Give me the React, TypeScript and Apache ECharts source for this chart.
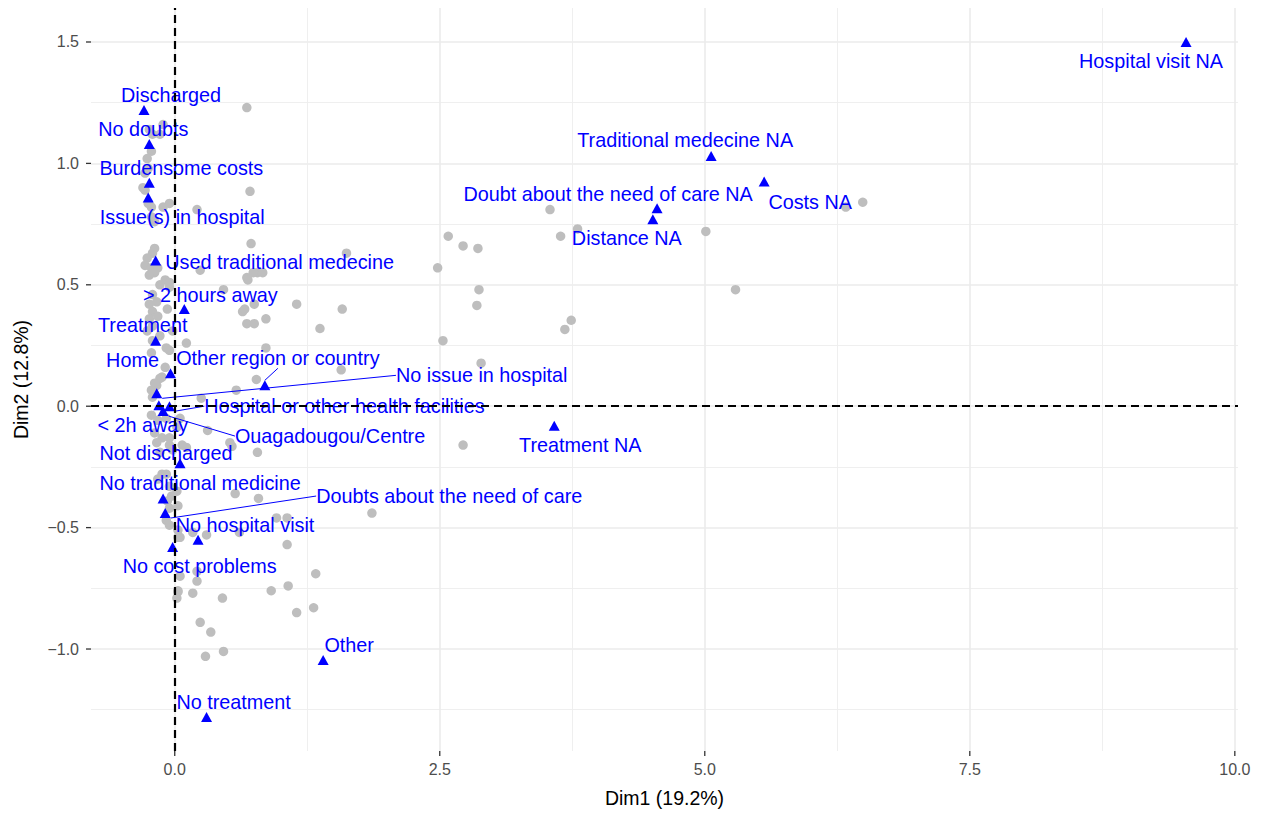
import React, { useEffect, useRef } from "react";
import * as echarts from "echarts";

// Individuals (grey points): [Dim1, Dim2]
const individuals: [number, number][] = [
  [-0.21, 1.12], [-0.14, 1.12], [-0.11, 1.16], [-0.24, 1.14], [-0.22, 1.05], [-0.26, 1.02], [-0.25, 0.98], [-0.28, 0.96],
  [-0.3, 0.9], [-0.28, 0.89], [-0.25, 0.835], [-0.22, 0.82], [-0.05, 0.835], [-0.11, 0.82], [-0.22, 0.78], [-0.19, 0.76],
  [0.21, 0.81], [-0.19, 0.65], [0.68, 1.23], [0.71, 0.885], [0.72, 0.67], [1.62, 0.63],
  [-0.21, 0.63], [-0.26, 0.61], [-0.28, 0.58], [-0.22, 0.57], [-0.16, 0.57], [-0.19, 0.55], [-0.09, 0.52], [-0.14, 0.5],
  [-0.05, 0.49], [0.24, 0.56], [-0.24, 0.54], [-0.05, 0.51],
  [-0.21, 0.46], [-0.17, 0.43], [-0.24, 0.42], [-0.21, 0.39], [-0.07, 0.4], [-0.24, 0.36], [-0.21, 0.33], [-0.26, 0.31],
  [-0.14, 0.29], [-0.02, 0.31], [0.11, 0.26], [-0.21, 0.27], [-0.05, 0.23], [-0.16, 0.37], [-0.08, 0.24], [-0.22, 0.22],
  [-0.09, 0.16], [-0.12, 0.12], [-0.17, 0.086], [-0.14, 0.115], [-0.19, 0.095], [-0.22, 0.066], [-0.21, 0.037], [0.25, 0.033],
  [0.68, 0.53], [0.78, 0.55], [0.74, 0.55], [0.83, 0.55], [0.69, 0.52], [0.46, 0.48], [0.75, 0.42], [0.64, 0.39],
  [1.15, 0.42], [1.58, 0.4], [0.68, 0.34], [0.75, 0.34], [0.86, 0.36], [0.66, 0.4], [1.37, 0.32], [0.86, 0.24],
  [1.57, 0.15], [0.77, 0.11], [0.58, 0.066],
  [2.58, 0.7], [2.72, 0.66], [2.86, 0.65], [2.48, 0.57], [2.87, 0.48], [2.85, 0.415], [2.53, 0.27], [2.89, 0.177],
  [2.72, -0.16], [3.54, 0.81], [3.64, 0.7], [3.8, 0.73], [3.74, 0.354], [3.68, 0.316], [5.01, 0.72], [5.29, 0.48],
  [6.33, 0.82], [6.49, 0.84],
  [-0.22, -0.037], [-0.16, -0.058], [-0.08, -0.05], [-0.19, -0.11], [-0.12, -0.13], [-0.17, -0.15], [-0.05, -0.16],
  [-0.02, -0.18], [-0.14, -0.19], [0.11, -0.17], [0.31, -0.1], [0.02, -0.086], [0.05, -0.05], [-0.05, -0.13],
  [0.07, -0.16], [0.54, -0.165], [0.78, -0.19], [0.52, -0.15],
  [-0.12, -0.28], [-0.16, -0.3], [-0.08, -0.28], [-0.05, -0.33], [0.02, -0.35], [-0.07, -0.39], [-0.05, -0.42],
  [-0.08, -0.47], [-0.05, -0.49], [0.03, -0.51], [0.05, -0.54], [-0.03, -0.37], [0.03, -0.41], [0.57, -0.36],
  [0.79, -0.38], [1.86, -0.44], [0.96, -0.46], [1.06, -0.46], [0.3, -0.53], [0.61, -0.52], [0.17, -0.52],
  [1.06, -0.57], [0.03, -0.54],
  [1.33, -0.69], [1.07, -0.74], [0.91, -0.76], [0.45, -0.79], [1.31, -0.83], [1.15, -0.85], [0.34, -0.93],
  [0.24, -0.89], [0.29, -1.03], [0.46, -1.01], [0.05, -0.7], [0.21, -0.68], [0.21, -0.72], [0.03, -0.765],
  [0.02, -0.79], [0.17, -0.77], [0.03, -0.76],
];

// Variable categories (blue triangles)
const categories = [
  "Hospital visit NA", "Discharged", "No doubts", "Burdensome costs", "Issue(s) in hospital",
  "Used traditional medecine", "> 2 hours away", "Treatment", "Home", "Other region or country",
  "No issue in hospital", "< 2h away", "Hospital or other health facilities", "Ouagadougou/Centre",
  "Not discharged", "No traditional medicine", "Doubts about the need of care", "No hospital visit",
  "No cost problems", "Other", "No treatment", "Treatment NA", "Distance NA",
  "Doubt about the need of care NA", "Traditional medecine NA", "Costs NA",
];
const catDim1 = [
  9.54, -0.29, -0.24, -0.24, -0.25, -0.18, 0.09, -0.18, -0.04, 0.85, -0.17, -0.15, -0.05, -0.11,
  0.05, -0.11, -0.09, 0.22, -0.02, 1.4, 0.3, 3.58, 4.51, 4.55, 5.06, 5.56,
];
const catDim2 = [
  1.5, 1.22, 1.08, 0.92, 0.86, 0.6, 0.4, 0.27, 0.136, 0.086, 0.053, 0.004, 0.0, -0.02,
  -0.235, -0.38, -0.44, -0.55, -0.58, -1.045, -1.28, -0.08, 0.77, 0.815, 1.03, 0.925,
];

// Repelled label placement (pixel offsets of label centre from its point)
const labelOffsets: [number, number][] = [
  [-35, 19], [27, -15], [-6, -15], [32, -15], [34, 20], [124, 1], [26, -14], [-13, -16], [-38, -13], [13, -27],
  [325, -18], [-16, 20], [175, 0], [167, 25], [-14, -10], [37, -15], [284, -17], [47, -15], [27, 19], [26, -15],
  [27, -15], [26, 19], [-26, 19], [-49, -14], [-26, -16], [46, 20],
];
const withSegment = [
  "Other region or country", "No issue in hospital", "Hospital or other health facilities",
  "Ouagadougou/Centre", "Doubts about the need of care",
];

const xMajor = [0, 2.5, 5, 7.5, 10];
const xMinor = [1.25, 3.75, 6.25, 8.75];
const yMajor = [-1, -0.5, 0, 0.5, 1, 1.5];
const yMinor = [-1.25, -0.75, -0.25, 0.25, 0.75, 1.25];

const FONT = '"Liberation Sans", Arial, Helvetica, sans-serif';

export default function App() {
  const ref = useRef<HTMLDivElement>(null);
  useEffect(() => {
    document.body.style.margin = "0";
    const chart = echarts.init(ref.current!, null, { renderer: "svg" });
    const fmt = (v: number) => v.toFixed(1).replace("-", "\u2212");
    const xRange = { min: -0.79, max: 10.03 };
    const yRange = { min: -1.42, max: 1.64 };
    const tickLabel = { color: "#4D4D4D", fontSize: 16, fontFamily: FONT, formatter: fmt };
    const titleStyle = { color: "#000", fontSize: 19.5, fontFamily: FONT };
    chart.setOption({
      animation: false,
      backgroundColor: "#fff",
      grid: { left: 91, right: 24, top: 8, bottom: 62 },
      xAxis: [
        {
          type: "value", ...xRange,
          name: "Dim1 (19.2%)", nameLocation: "middle", nameGap: 37, nameTextStyle: titleStyle,
          axisLine: { show: false, onZero: false },
          axisTick: { show: false, customValues: xMajor },
          axisLabel: { ...tickLabel, customValues: xMajor, margin: 10 },
          splitLine: { show: true, lineStyle: { color: "#EBEBEB", width: 1.6 } },
        },
        {
          type: "value", ...xRange, position: "bottom",
          axisLine: { show: false, onZero: false },
          axisTick: { show: false, customValues: xMinor },
          axisLabel: { show: false, customValues: xMinor },
          splitLine: { show: true, lineStyle: { color: "#EDEDED", width: 0.9 } },
        },
      ],
      yAxis: [
        {
          type: "value", ...yRange,
          name: "Dim2 (12.8%)", nameLocation: "middle", nameGap: 60, nameTextStyle: titleStyle,
          axisLine: { show: false, onZero: false },
          axisTick: { show: false, customValues: yMajor },
          axisLabel: { ...tickLabel, customValues: yMajor, margin: 12 },
          splitLine: { show: true, lineStyle: { color: "#EBEBEB", width: 1.6 } },
        },
        {
          type: "value", ...yRange, position: "left",
          axisLine: { show: false, onZero: false },
          axisTick: { show: false, customValues: yMinor },
          axisLabel: { show: false, customValues: yMinor },
          splitLine: { show: true, lineStyle: { color: "#EDEDED", width: 0.9 } },
        },
      ],
      series: [
        {
          type: "scatter",
          xAxisIndex: 0, yAxisIndex: 0,
          data: individuals,
          symbol: "circle",
          symbolSize: 9.5,
          itemStyle: { color: "#BEBEBE", opacity: 1 },
          silent: true,
          z: 2,
          markLine: {
            silent: true,
            symbol: ["none", "none"],
            label: { show: false },
            lineStyle: { color: "#000", width: 2.2, type: [8, 5], opacity: 1 },
            data: [{ xAxis: 0 }, { yAxis: 0 }],
          },
        },
        {
          type: "scatter",
          xAxisIndex: 0, yAxisIndex: 0,
          z: 3,
          symbol: "triangle",
          symbolSize: [11, 10],
          itemStyle: { color: "#0000FF", opacity: 1 },
          data: categories.map((name, i) => ({
            name,
            value: [catDim1[i], catDim2[i]],
            labelLine: { show: withSegment.includes(name) },
          })),
          label: {
            show: true,
            position: "inside",
            formatter: "{b}",
            color: "#0000FF",
            opacity: 1,
            fontSize: 19.8,
            fontFamily: FONT,
            align: "center",
            verticalAlign: "middle",
          },
          labelLine: { show: false, lineStyle: { color: "#0000FF", width: 1, opacity: 1 } },
          labelLayout: (p: any) => {
            const o = labelOffsets[p.dataIndex];
            return { dx: o[0], dy: o[1], hideOverlap: false };
          },
        },
      ],
    });

    // Outward tick marks at the major breaks, positioned through the axes' own scales
    const ticks: any[] = [];
    const tickStyle = { stroke: "#333333", lineWidth: 1.3 };
    const bottomPx = chart.convertToPixel({ yAxisIndex: 0 }, yRange.min) as number;
    const leftPx = chart.convertToPixel({ xAxisIndex: 0 }, xRange.min) as number;
    xMajor.forEach((v) => {
      const px = chart.convertToPixel({ xAxisIndex: 0 }, v) as number;
      ticks.push({ type: "line", silent: true, shape: { x1: px, y1: bottomPx, x2: px, y2: bottomPx + 5 }, style: tickStyle });
    });
    yMajor.forEach((v) => {
      const py = chart.convertToPixel({ yAxisIndex: 0 }, v) as number;
      ticks.push({ type: "line", silent: true, shape: { x1: leftPx - 5, y1: py, x2: leftPx, y2: py }, style: tickStyle });
    });
    chart.setOption({ graphic: { elements: ticks } });

    return () => chart.dispose();
  }, []);
  return <div ref={ref} style={{ width: 1262, height: 813 }} />;
}
